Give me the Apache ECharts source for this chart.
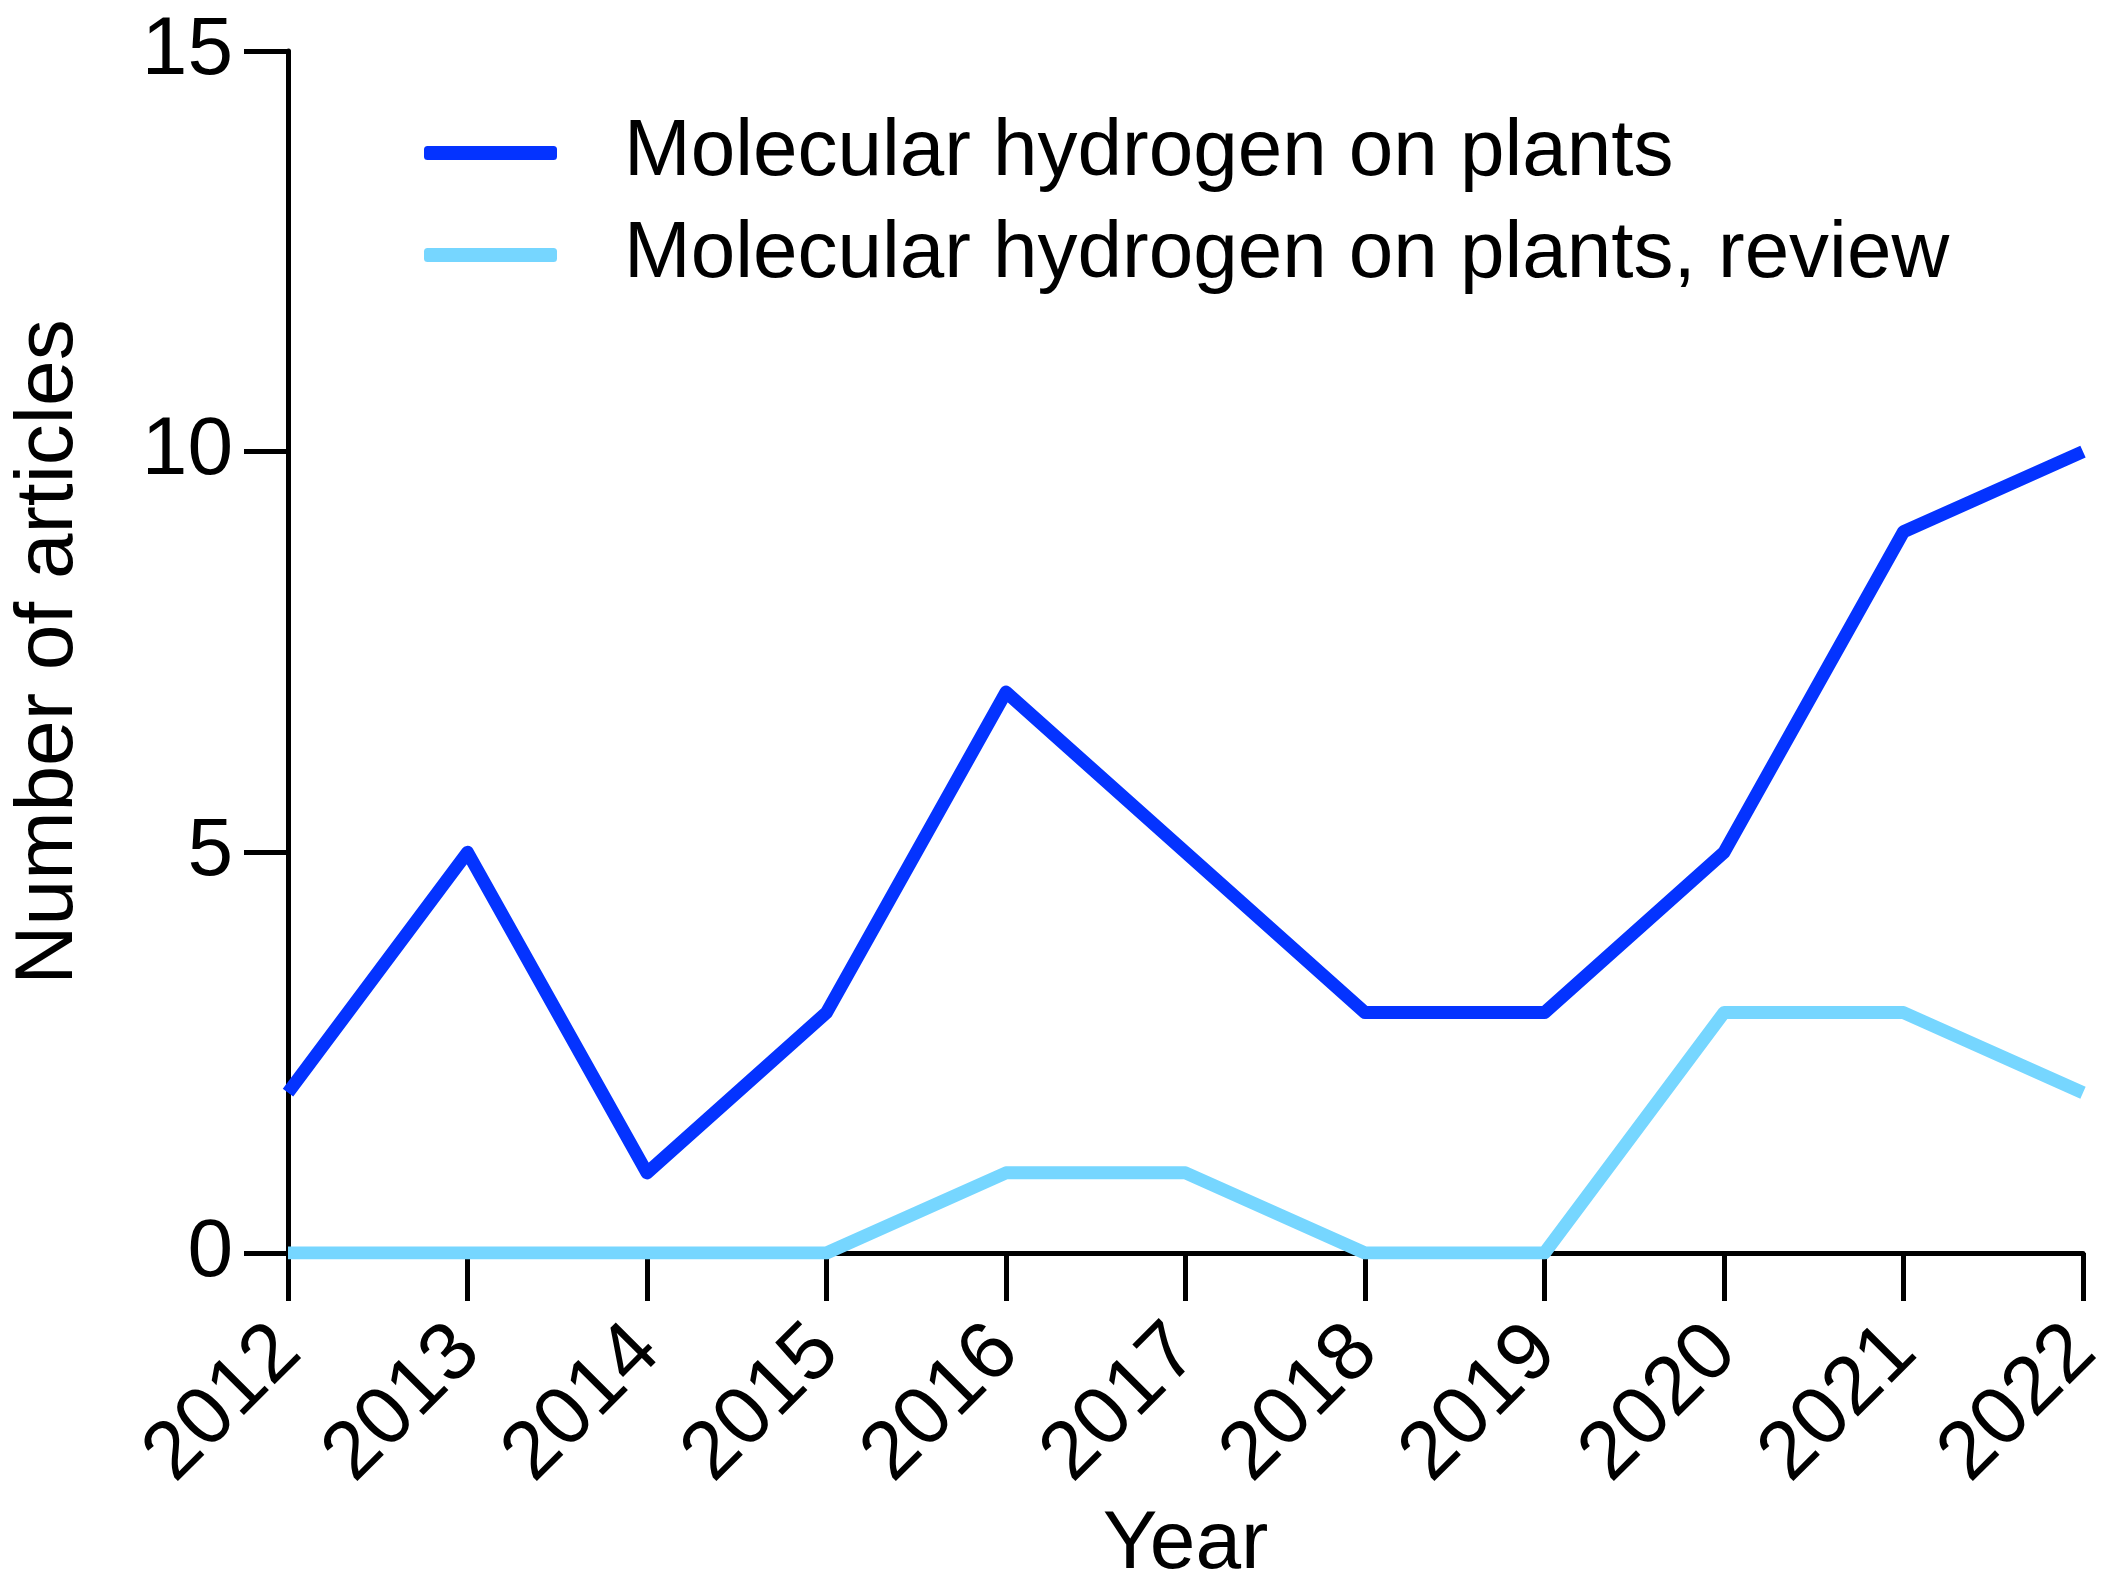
<!DOCTYPE html>
<html><head><meta charset="utf-8">
<script src="https://cdn.jsdelivr.net/npm/echarts@6/dist/echarts.min.js"></script>
<style>html,body{margin:0;padding:0;background:#fff}#c{width:2117px;height:1591px}</style>
</head><body><div id="c"></div>
<script>
const years = ['2012','2013','2014','2015','2016','2017','2018','2019','2020','2021','2022'];
const plants = [2,5,1,3,7,5,3,3,5,9,10];
const reviews = [0,0,0,0,1,1,0,0,3,3,2];
const seriesNames = ['Molecular hydrogen on plants','Molecular hydrogen on plants, review'];
const yTicks = {min:0,max:15,interval:5};

const FONT = '"Liberation Sans", Arial, sans-serif';
const FS = 82;
const chart = echarts.init(document.getElementById('c'));
chart.setOption({
  backgroundColor:'#fff',
  animation:false,
  grid:{left:282,right:34,top:51,bottom:338,containLabel:false},
  legend:{
    left:419, top:108, orient:'vertical', itemWidth:133, itemHeight:14, itemGap:22,
    icon:'roundRect',
    textStyle:{fontFamily:FONT,fontSize:80,color:'#000',padding:[0,0,0,62]},
    data:seriesNames
  },
  xAxis:{
    type:'category', data:years, boundaryGap:false,
    name:'Year', nameLocation:'middle', nameGap:248,
    nameTextStyle:{fontFamily:FONT,fontSize:FS,color:'#000'},
    axisLine:{lineStyle:{color:'#000',width:5}},
    axisTick:{alignWithLabel:true,length:48,lineStyle:{color:'#000',width:5}},
    axisLabel:{rotate:45,margin:86,fontFamily:FONT,fontSize:FS,color:'#000',interval:0},
    splitLine:{show:false}
  },
  yAxis:{
    type:'value', min:yTicks.min, max:yTicks.max, interval:yTicks.interval,
    name:'Number of articles', nameLocation:'middle', nameGap:198, nameRotate:90,
    nameTextStyle:{fontFamily:FONT,fontSize:FS,color:'#000'},
    axisLine:{show:true,lineStyle:{color:'#000',width:5}},
    axisTick:{show:true,length:44,lineStyle:{color:'#000',width:5}},
    axisLabel:{margin:55,fontFamily:FONT,fontSize:FS,color:'#000'},
    splitLine:{show:false}
  },
  series:[
    {name:seriesNames[0],type:'line',data:plants,symbol:'none',
     lineStyle:{color:'#0433FF',width:13,join:'round'},itemStyle:{color:'#0433FF'},z:3},
    {name:seriesNames[1],type:'line',data:reviews,symbol:'none',
     lineStyle:{color:'#76D6FF',width:13,join:'round'},itemStyle:{color:'#76D6FF'},z:2}
  ]
});
</script></body></html>
